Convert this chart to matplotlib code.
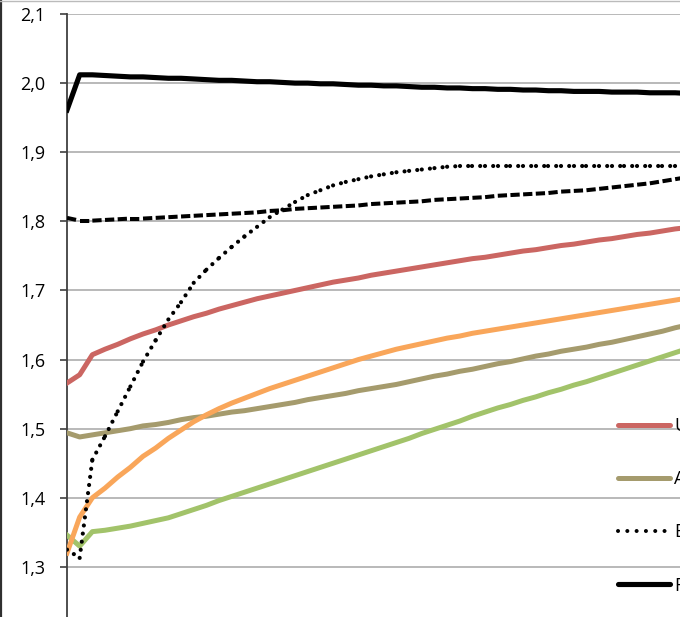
import matplotlib
matplotlib.use("Agg")
import matplotlib.pyplot as plt
from matplotlib.collections import LineCollection
from matplotlib.lines import Line2D
import numpy as np

# ---------------- data ----------------
series_u = [1.566, 1.578, 1.607, 1.615, 1.622, 1.630, 1.637, 1.643, 1.650, 1.656,
            1.662, 1.667, 1.673, 1.678, 1.683, 1.688, 1.692, 1.696, 1.700, 1.704,
            1.708, 1.712, 1.715, 1.718, 1.722, 1.725, 1.728, 1.731, 1.734, 1.737,
            1.740, 1.743, 1.746, 1.748, 1.751, 1.754, 1.757, 1.759, 1.762, 1.765,
            1.767, 1.770, 1.773, 1.775, 1.778, 1.781, 1.783, 1.786, 1.789, 1.791]
series_a = [1.494, 1.488, 1.491, 1.494, 1.497, 1.500, 1.504, 1.506, 1.509, 1.513,
            1.516, 1.518, 1.521, 1.524, 1.526, 1.529, 1.532, 1.535, 1.538, 1.542,
            1.545, 1.548, 1.551, 1.555, 1.558, 1.561, 1.564, 1.568, 1.572, 1.576,
            1.579, 1.583, 1.586, 1.590, 1.594, 1.597, 1.601, 1.605, 1.608, 1.612,
            1.615, 1.618, 1.622, 1.625, 1.629, 1.633, 1.637, 1.641, 1.646, 1.650]
series_e = [1.325, 1.313, 1.455, 1.489, 1.525, 1.561, 1.597, 1.628, 1.658, 1.683,
            1.711, 1.730, 1.747, 1.763, 1.778, 1.792, 1.806, 1.817, 1.828, 1.838,
            1.845, 1.852, 1.857, 1.861, 1.865, 1.868, 1.871, 1.873, 1.875, 1.877,
            1.879, 1.880, 1.880, 1.880, 1.880, 1.880, 1.880, 1.880, 1.880, 1.880,
            1.880, 1.880, 1.880, 1.880, 1.880, 1.880, 1.880, 1.880, 1.880, 1.880]
series_f = [1.961, 2.012, 2.012, 2.011, 2.010, 2.009, 2.009, 2.008, 2.007, 2.007,
            2.006, 2.005, 2.004, 2.004, 2.003, 2.002, 2.002, 2.001, 2.000, 2.000,
            1.999, 1.999, 1.998, 1.997, 1.997, 1.996, 1.996, 1.995, 1.994, 1.994,
            1.993, 1.993, 1.992, 1.992, 1.991, 1.991, 1.990, 1.990, 1.989, 1.989,
            1.988, 1.988, 1.988, 1.987, 1.987, 1.987, 1.986, 1.986, 1.986, 1.985]
series_orange = [1.320, 1.372, 1.400, 1.414, 1.430, 1.444, 1.460, 1.472, 1.486, 1.498,
                 1.510, 1.520, 1.529, 1.537, 1.544, 1.551, 1.558, 1.564, 1.570, 1.576,
                 1.582, 1.588, 1.594, 1.600, 1.605, 1.610, 1.615, 1.619, 1.623, 1.627,
                 1.631, 1.634, 1.638, 1.641, 1.644, 1.647, 1.650, 1.653, 1.656, 1.659,
                 1.662, 1.665, 1.668, 1.671, 1.674, 1.677, 1.680, 1.683, 1.686, 1.689]
series_green = [1.346, 1.330, 1.351, 1.353, 1.356, 1.359, 1.363, 1.367, 1.371, 1.377,
                1.383, 1.389, 1.396, 1.402, 1.408, 1.414, 1.420, 1.426, 1.432, 1.438,
                1.444, 1.450, 1.456, 1.462, 1.468, 1.474, 1.480, 1.486, 1.493, 1.499,
                1.505, 1.511, 1.518, 1.524, 1.530, 1.535, 1.541, 1.546, 1.552, 1.557,
                1.563, 1.568, 1.574, 1.580, 1.586, 1.592, 1.598, 1.604, 1.610, 1.616]
series_dashed = [1.805, 1.801, 1.801, 1.802, 1.803, 1.804, 1.804, 1.805, 1.806, 1.807,
                 1.808, 1.809, 1.810, 1.811, 1.812, 1.813, 1.815, 1.816, 1.818, 1.819,
                 1.820, 1.821, 1.822, 1.823, 1.825, 1.826, 1.827, 1.828, 1.829, 1.831,
                 1.832, 1.833, 1.834, 1.835, 1.837, 1.838, 1.839, 1.840, 1.841, 1.843,
                 1.844, 1.845, 1.847, 1.849, 1.851, 1.853, 1.855, 1.858, 1.861, 1.864]

legend_labels = ["U", "A", "E", "F"]
ytick_values = [1.3, 1.4, 1.5, 1.6, 1.7, 1.8, 1.9, 2.0, 2.1]
ytick_labels = ["1,3", "1,4", "1,5", "1,6", "1,7", "1,8", "1,9", "2,0", "2,1"]

# ---------------- styling ----------------
plt.rcParams["font.family"] = ["Open Sans", "DejaVu Sans"]
C_RED = "#CB6662"
C_OLIVE = "#A59B6D"
C_ORANGE = "#F9A65A"
C_GREEN = "#A2C36A"
W, H = 680, 617

fig = plt.figure(figsize=(W / 100, H / 100), dpi=100)
# axes extends past the right and bottom edge of the picture (cropped chart)
n = len(series_f)
step = 12.67
ax_w = (n - 1) * step
ax = fig.add_axes([67 / W, (H - 636) / H, ax_w / W, 622 / H])
x = np.arange(n)

ax.set_xlim(0, n - 1)
ax.set_ylim(1.2, 2.1)

ax.plot(x, series_green, color=C_GREEN, lw=3.6, solid_joinstyle="round", zorder=3)
ax.plot(x, series_a, color=C_OLIVE, lw=3.6, solid_joinstyle="round", zorder=3)
ax.plot(x, series_orange, color=C_ORANGE, lw=3.6, solid_joinstyle="round", zorder=3.2)
ax.plot(x, series_u, color=C_RED, lw=3.6, solid_joinstyle="round", zorder=3.3)


def segments(vals):
    return [[(x[i], vals[i]), (x[i + 1], vals[i + 1])] for i in range(len(vals) - 1)]


lc_dash = LineCollection(segments(series_dashed), colors="black", linewidths=2.9,
                         linestyles=[(0, (2.3, 0.95))], capstyle="butt", zorder=3.4)
ax.add_collection(lc_dash)
lc_dot = LineCollection(segments(series_e), colors="black", linewidths=3.0,
                        linestyles=[(0, (0.01, 1.95))], capstyle="round", zorder=3.5)
ax.add_collection(lc_dot)
ax.plot(x, series_f, color="black", lw=3.7, solid_joinstyle="round", zorder=3.6)

# axes styling
for s in ["top", "right", "bottom"]:
    ax.spines[s].set_visible(False)
ax.spines["left"].set_color("#404040")
ax.spines["left"].set_linewidth(1.3)
ax.set_yticks(ytick_values)
ax.set_yticklabels(ytick_labels)
ax.set_xticks([])
ax.tick_params(axis="y", direction="out", length=5, width=1.2, color="#404040",
               pad=10.5, labelsize=13, labelcolor="black")
ax.yaxis.grid(True, color="#A6A6A6", lw=1.1, zorder=0)
ax.set_axisbelow(True)

# legend (overlapping the plot area, no frame)
handles = [
    Line2D([], [], color=C_RED, lw=3.6, solid_capstyle="round"),
    Line2D([], [], color=C_OLIVE, lw=3.6, solid_capstyle="round"),
    Line2D([], [], color="black", lw=2.9, linestyle=(0, (0.01, 2.3)), dash_capstyle="round"),
    Line2D([], [], color="black", lw=3.7, solid_capstyle="round"),
]
fig.legend(handles, legend_labels, loc="upper left",
           bbox_to_anchor=(617.5 / W, 1 - 417 / H), frameon=False,
           borderpad=0, borderaxespad=0, handlelength=2.9, handletextpad=0.25,
           labelspacing=1.95, fontsize=13)

# chart-area border visible at left and top
fig.add_artist(Line2D([1.2 / W, 1.2 / W], [0, 1], transform=fig.transFigure,
                      color="#303030", lw=1.6))
fig.add_artist(Line2D([0, 1], [1 - 0.6 / H, 1 - 0.6 / H], transform=fig.transFigure,
                      color="#BBBBBB", lw=1.0))

fig.savefig("out.png", dpi=100)
